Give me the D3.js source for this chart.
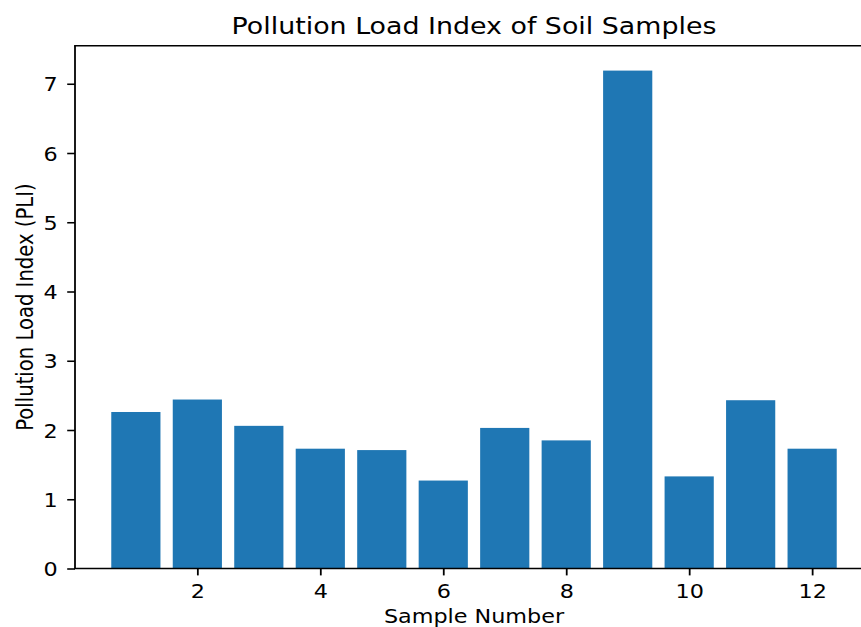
<!DOCTYPE html>
<html>
<head>
<meta charset="utf-8">
<script src="https://cdn.jsdelivr.net/npm/d3@7"></script>
<style>
  html, body { margin: 0; padding: 0; background: #ffffff; }
  svg { display: block; }
  text { font-family: "DejaVu Sans", sans-serif; fill: #000; }
</style>
</head>
<body>
<svg id="chart" width="861" height="627"></svg>
<script>
const samples = [1, 2, 3, 4, 5, 6, 7, 8, 9, 10, 11, 12];
const pli = [2.26, 2.44, 2.06, 1.73, 1.71, 1.27, 2.03, 1.85, 7.19, 1.33, 2.43, 1.73];
const xTicks = [2, 4, 6, 8, 10, 12];
const yTicks = [0, 1, 2, 3, 4, 5, 6, 7];
const titleText = "Pollution Load Index of Soil Samples";
const xLabel = "Sample Number";
const yLabel = "Pollution Load Index (PLI)";

(function () {
const W = 861, H = 627;
const sx = 1.138;               // horizontal stretch of the original picture
const mLeft = 75, mRight = 873, mTop = 45.7, mBottom = 568.5;
const fs = 19.6, titleFs = 23.6;
const barW = 0.8;

const svg = d3.select("#chart");
svg.append("rect").attr("width", W).attr("height", H).attr("fill", "#fff");

const x = d3.scaleLinear()
  .domain([1 - barW / 2 - 0.59, 12 + barW / 2 + 0.59])
  .range([mLeft, mRight]);
const y = d3.scaleLinear()
  .domain([0, d3.max(pli) * 1.05])
  .range([mBottom, mTop]);

// bars
svg.append("g").selectAll("rect")
  .data(samples)
  .join("rect")
  .attr("x", (d) => x(d - barW / 2))
  .attr("width", (d) => x(d + barW / 2) - x(d - barW / 2))
  .attr("y", (d, i) => y(pli[i]))
  .attr("height", (d, i) => y(0) - y(pli[i]))
  .attr("fill", "#1f77b4");

// x axis
const xAxis = svg.append("g")
  .attr("transform", `translate(0,${mBottom})`)
  .call(d3.axisBottom(x).tickValues(xTicks).tickFormat(d3.format("d")).tickSize(6.9).tickSizeOuter(0));
xAxis.select(".domain").remove();
xAxis.selectAll(".tick line").attr("stroke", "#000").attr("stroke-width", 1.79);
xAxis.selectAll(".tick text")
  .attr("y", null).attr("dy", null)
  .attr("transform", `translate(0,29.5) scale(${sx},1)`)
  .attr("text-anchor", "middle")
  .style("font-size", fs + "px")
  .attr("fill", "#000");

// y axis
const yAxis = svg.append("g")
  .attr("transform", `translate(${mLeft},0)`)
  .call(d3.axisLeft(y).tickValues(yTicks).tickFormat(d3.format("d")).tickSize(7.8).tickSizeOuter(0));
yAxis.select(".domain").remove();
yAxis.selectAll(".tick line").attr("stroke", "#000").attr("stroke-width", 1.57);
yAxis.selectAll(".tick text")
  .attr("x", null).attr("dy", null)
  .attr("transform", `translate(-17.2,7.1) scale(${sx},1)`)
  .attr("text-anchor", "end")
  .style("font-size", fs + "px")
  .attr("fill", "#000");

// spines
const sp = svg.append("g").attr("stroke", "#000").attr("fill", "none");
sp.append("line").attr("x1", mLeft).attr("x2", mLeft).attr("y1", mTop).attr("y2", mBottom).attr("stroke-width", 1.79);
sp.append("line").attr("x1", mRight).attr("x2", mRight).attr("y1", mTop).attr("y2", mBottom).attr("stroke-width", 1.79);
sp.append("line").attr("x1", mLeft - 0.9).attr("x2", mRight).attr("y1", mTop).attr("y2", mTop).attr("stroke-width", 1.57);
sp.append("line").attr("x1", mLeft - 0.9).attr("x2", mRight).attr("y1", mBottom).attr("y2", mBottom).attr("stroke-width", 1.57);

// title
svg.append("text")
  .attr("transform", `translate(${(mLeft + mRight) / 2},34) scale(${sx},1)`)
  .attr("text-anchor", "middle")
  .style("font-size", titleFs + "px")
  .text(titleText);

// x label
svg.append("text")
  .attr("transform", `translate(${(mLeft + mRight) / 2},623) scale(${sx},1)`)
  .attr("text-anchor", "middle")
  .style("font-size", fs + "px")
  .text(xLabel);

// y label
svg.append("text")
  .attr("transform", `translate(33,${(mTop + mBottom) / 2}) rotate(-90) scale(1,${sx})`)
  .attr("text-anchor", "middle")
  .style("font-size", fs + "px")
  .text(yLabel);
})();
</script>
</body>
</html>
